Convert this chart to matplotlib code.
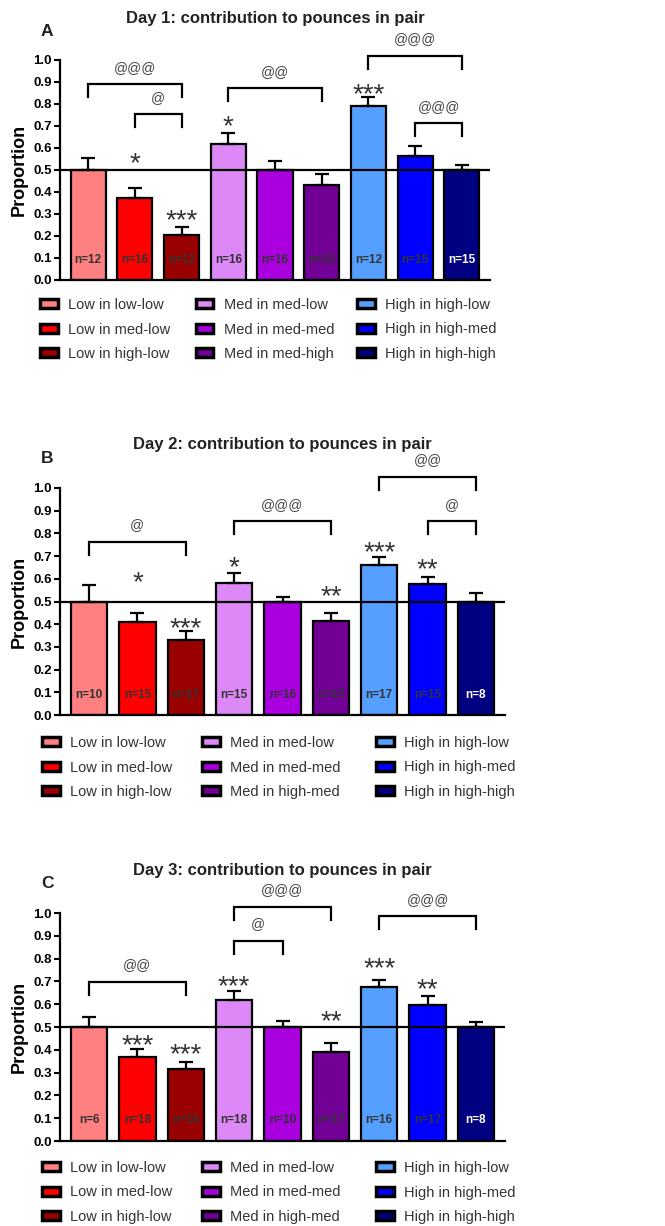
import matplotlib
matplotlib.use("Agg")
import matplotlib.pyplot as plt
from matplotlib.patches import Patch

plt.rcParams['font.family'] = ['Liberation Sans', 'DejaVu Sans']

W, H = 665, 1226

colors = ["#FF8080", "#FF0000", "#990000", "#DD88F7", "#AA00E0",
          "#720096", "#55A0FF", "#0000FF", "#000080"]

labels_a = ["Low in low-low", "Low in med-low", "Low in high-low",
            "Med in med-low", "Med in med-med", "Med in med-high",
            "High in high-low", "High in high-med", "High in high-high"]
labels_bc = ["Low in low-low", "Low in med-low", "Low in high-low",
             "Med in med-low", "Med in med-med", "Med in high-med",
             "High in high-low", "High in high-med", "High in high-high"]

# Day 1
day1_mean = [0.50, 0.372, 0.205, 0.62, 0.50, 0.43, 0.79, 0.565, 0.50]
day1_sem = [0.055, 0.048, 0.037, 0.05, 0.04, 0.05, 0.04, 0.045, 0.025]
day1_n = [12, 16, 12, 16, 16, 15, 12, 15, 15]
day1_stars = ["", "*", "***", "*", "", "", "***", "", ""]
day1_star_y = [0, 0.57, 0.31, 0.74, 0, 0, 0.886, 0, 0]
day1_pairs = [(0, 2, "@@@"), (1, 2, "@"), (3, 5, "@@"), (6, 8, "@@@"), (7, 8, "@@@")]
day1_pair_y = [0.89, 0.753, 0.871, 1.018, 0.712]

# Day 2
day2_mean = [0.50, 0.409, 0.331, 0.581, 0.50, 0.415, 0.659, 0.575, 0.50]
day2_sem = [0.071, 0.042, 0.037, 0.044, 0.02, 0.034, 0.038, 0.034, 0.037]
day2_n = [10, 15, 17, 15, 16, 15, 17, 15, 8]
day2_stars = ["", "*", "***", "*", "", "**", "***", "**", ""]
day2_star_y = [0, 0.625, 0.42, 0.69, 0, 0.56, 0.754, 0.68, 0]
day2_pairs = [(0, 2, "@"), (3, 5, "@@@"), (6, 8, "@@"), (7, 8, "@")]
day2_pair_y = [0.762, 0.853, 1.049, 0.853]

# Day 3
day3_mean = [0.50, 0.367, 0.316, 0.619, 0.50, 0.392, 0.676, 0.597, 0.50]
day3_sem = [0.043, 0.036, 0.03, 0.038, 0.027, 0.037, 0.03, 0.037, 0.024]
day3_n = [6, 18, 16, 18, 10, 17, 16, 17, 8]
day3_stars = ["", "***", "***", "***", "", "**", "***", "**", ""]
day3_star_y = [0, 0.458, 0.417, 0.719, 0, 0.565, 0.798, 0.703, 0]
day3_pairs = [(0, 2, "@@"), (3, 4, "@"), (3, 5, "@@@"), (6, 8, "@@@")]
day3_pair_y = [0.697, 0.878, 1.026, 0.985]

panels = [
    dict(title="Day 1: contribution to pounces in pair", letter="A",
         mean=day1_mean, sem=day1_sem, n=day1_n, stars=day1_stars,
         star_y=day1_star_y, pairs=day1_pairs, pair_y=day1_pair_y,
         labels=labels_a, box=(60, 280, 430, 220), title_y=18, letter_y=32,
         leg_x=[40, 196, 357], leg_y=303),
    dict(title="Day 2: contribution to pounces in pair", letter="B",
         mean=day2_mean, sem=day2_sem, n=day2_n, stars=day2_stars,
         star_y=day2_star_y, pairs=day2_pairs, pair_y=day2_pair_y,
         labels=labels_bc, box=(60, 715, 445, 227), title_y=445, letter_y=458,
         leg_x=[42, 202, 376], leg_y=741),
    dict(title="Day 3: contribution to pounces in pair", letter="C",
         mean=day3_mean, sem=day3_sem, n=day3_n, stars=day3_stars,
         star_y=day3_star_y, pairs=day3_pairs, pair_y=day3_pair_y,
         labels=labels_bc, box=(60, 1141, 445, 228), title_y=870, letter_y=883,
         leg_x=[42, 202, 376], leg_y=1166),
]

fig = plt.figure(figsize=(W / 100, H / 100), dpi=100)

for p in panels:
    x0, y0, w, h = p["box"]
    ax = fig.add_axes([x0 / W, 1 - y0 / H, w / W, h / H])
    xs = list(range(len(p["mean"])))
    ax.bar(xs, p["mean"], width=0.75, color=colors, edgecolor="black",
           linewidth=1.6, zorder=2)
    ax.errorbar(xs, p["mean"], yerr=[[0] * len(xs), p["sem"]], fmt="none",
                ecolor="black", elinewidth=1.6, capsize=5, capthick=1.6, zorder=3)
    ax.axhline(0.5, color="black", lw=1.6, zorder=4)

    ax.set_xlim(-0.6, 8.6)
    ax.set_ylim(0, 1.0)
    ticks = [i / 10 for i in range(11)]
    ax.set_yticks(ticks, labels=[f"{t:.1f}" for t in ticks],
                  fontweight="bold", fontsize=9.5)
    ax.tick_params(axis="y", width=1.5, length=4, pad=2, colors="black")
    ax.set_xticks([])
    for s in ("top", "right"):
        ax.spines[s].set_visible(False)
    for s in ("left", "bottom"):
        ax.spines[s].set_linewidth(1.6)
    ax.set_ylabel("Proportion", fontweight="bold", fontsize=13, labelpad=4)

    # n labels
    for i, nv in enumerate(p["n"]):
        ax.text(i, 0.09, f"n={nv}", ha="center", va="center", fontsize=8.5,
                fontweight="bold", color="white" if i == 8 else "#333333",
                zorder=5)

    # significance vs 0.5
    for i, st in enumerate(p["stars"]):
        if st:
            ax.annotate(st, xy=(i, p["star_y"][i]), xytext=(0, -12),
                        textcoords="offset points", ha="center", va="baseline",
                        fontsize=20, color="#333333")

    # brackets between groups
    leg = 13 / h
    for (a, b, lab), ty in zip(p["pairs"], p["pair_y"]):
        ax.plot([a, a, b, b], [ty - leg, ty, ty, ty - leg], color="black",
                lw=1.6, clip_on=False, solid_joinstyle="miter")
        ax.annotate(lab, xy=((a + b) / 2, ty), xytext=(0, 12),
                    textcoords="offset points", ha="center", va="center",
                    fontsize=10, color="#444444", annotation_clip=False)

    fig.text((x0 + w / 2) / W, 1 - p["title_y"] / H, p["title"], ha="center",
             va="center", fontsize=12, fontweight="bold", color="#222222")
    fig.text(47 / W, 1 - p["letter_y"] / H, p["letter"], ha="center",
             va="center", fontsize=12.5, fontweight="bold", color="#222222")

    # legend, one block per colour family
    for c in range(3):
        handles = [Patch(facecolor=colors[k], edgecolor="black", linewidth=2.5)
                   for k in range(3 * c, 3 * c + 3)]
        fig.legend(handles, p["labels"][3 * c:3 * c + 3], loc="upper left",
                   bbox_to_anchor=(p["leg_x"][c] / W, 1 - (p["leg_y"] - 5) / H),
                   frameon=False, borderpad=0, borderaxespad=0,
                   handlelength=1.2, handleheight=0.55, handletextpad=0.75,
                   labelspacing=0.72, fontsize=10.5, labelcolor="#333333")

fig.savefig("out.png", dpi=100, facecolor="white")
